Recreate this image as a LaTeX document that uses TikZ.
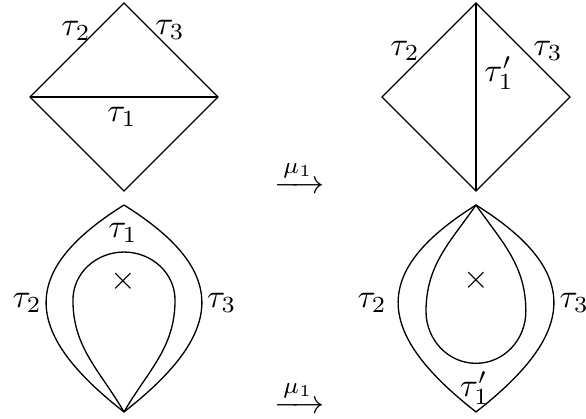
\documentclass[tikz,border=0pt]{standalone}
\usepackage{amsmath,amssymb}
\usetikzlibrary{calc}

\begin{document}
\begin{tikzpicture}[
  lab/.style={inner sep=0pt},
  mut/.style={inner sep=0pt},
  puncture/.style={inner sep=0pt},
]
\useasboundingbox (-1.319,-3.415) rectangle (4.915,1.032);
% ---- top row: triangulated squares ----
\coordinate (N1) at (0,1);     \coordinate (S1) at (0,-1);
\coordinate (W1) at (-1,0);    \coordinate (E1) at (1,0);
\coordinate (N2) at (3.745,1); \coordinate (S2) at (3.745,-1);
\coordinate (W2) at (2.745,0); \coordinate (E2) at (4.745,0);
\draw (N1) -- (E1) -- (S1) -- (W1) -- cycle;
\draw (W1) -- (E1);
\draw (N2) -- (E2) -- (S2) -- (W2) -- cycle;
\draw (N2) -- (S2);
\node[lab] (a2) at (-0.51,0.70) {$\tau_2$};
\node[lab] (a3) at (0.49,0.71) {$\tau_3$};
\node[lab] (a1) at (-0.02,-0.21) {$\tau_1$};
\node[lab] (b2) at (2.99,0.49) {$\tau_2$};
\node[lab] (b1) at (3.99,0.255) {$\tau_1'$};
\node[lab] (b3) at (4.51,0.49) {$\tau_3$};
% ---- bottom row: once-punctured digons ----
\coordinate (T1) at (0,-1.149);     \coordinate (B1) at (0,-3.35);
\coordinate (L1) at (-0.543,-2.16); \coordinate (U1) at (0,-1.649);
\coordinate (R1) at (0.543,-2.16);
\coordinate (T2) at (3.745,-1.149); \coordinate (B2) at (3.745,-3.35);
\coordinate (L2) at (3.213,-2.28);  \coordinate (D2) at (3.745,-2.833);
\coordinate (R2) at (4.275,-2.28);
\draw (T1) .. controls +(212:1.35) and +(142:1.35) .. (B1)
           .. controls +(38:1.35) and +(-32:1.35) .. (T1);
\draw (B1) to[out=120,in=270] (L1) to[out=90,in=180] (U1)
           to[out=0,in=90] (R1) to[out=270,in=60] (B1);
\draw (T2) .. controls +(212:1.35) and +(142:1.35) .. (B2)
           .. controls +(38:1.35) and +(-32:1.35) .. (T2);
\draw (T2) to[out=235,in=90] (L2) to[out=270,in=180] (D2)
           to[out=0,in=270] (R2) to[out=90,in=305] (T2);
\node[puncture] (x1) at (-0.007,-1.965) {$\times$};
\node[puncture] (x2) at (3.75,-1.947) {$\times$};
\node[lab] (c1) at (-0.01,-1.447) {$\tau_1$};
\node[lab] (c2) at (-1.03,-2.19) {$\tau_2$};
\node[lab] (c3) at (1.04,-2.19) {$\tau_3$};
\node[lab] (d2) at (2.64,-2.19) {$\tau_2$};
\node[lab] (d3) at (4.79,-2.19) {$\tau_3$};
\node[lab] (d1) at (3.73,-3.10) {$\tau_1'$};
% ---- mutations ----
\node[mut] (m1) at (1.872,-0.851) {$\xrightarrow{\mu_1}$};
\node[mut] (m2) at (1.872,-3.19) {$\xrightarrow{\mu_1}$};
\end{tikzpicture}
\end{document}
